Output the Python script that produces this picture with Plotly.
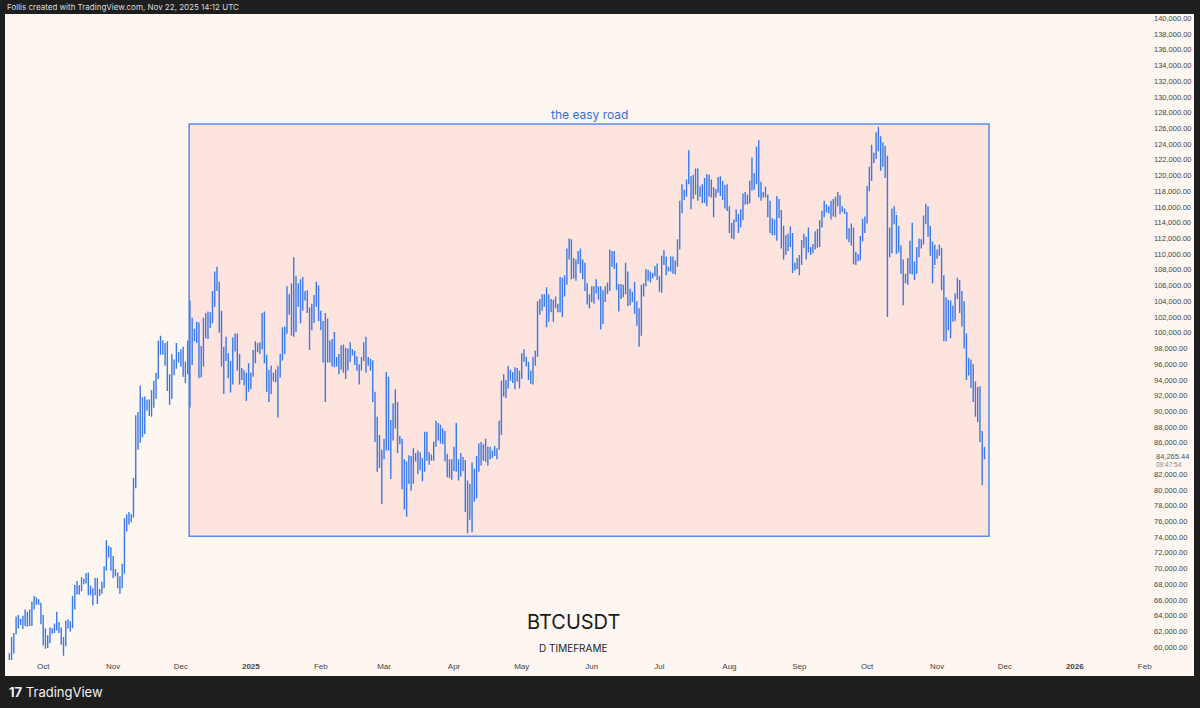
import pandas as pd
import plotly.graph_objects as go

# BTCUSDT daily bars, values in thousands of USDT
start_day = "2024-09-16"
first_open_k = 59.2

close_k = [
    # 2024-09 (16th..30th)
    58.2, 60.3, 61.7, 62.9, 63.2, 63.3, 63.5, 63.3, 64.2, 63.1, 65.2, 65.8, 65.9, 65.6, 63.3,
    # 2024-10
    60.8, 60.6, 60.7, 62.1, 62.1, 62.8, 62.2, 62.1, 60.6, 60.3, 62.4, 63.2, 62.8, 66.0, 67.0, 67.6,
    67.4, 68.4, 68.4, 69.0, 67.4, 67.4, 66.7, 68.2, 66.6, 67.0, 68.0, 69.9, 72.7, 72.3, 70.2,
    # 2024-11
    69.5, 69.4, 68.8, 67.8, 69.4, 75.6, 75.9, 76.5, 76.7, 80.4, 88.7, 87.9, 90.5, 87.3, 91.0,
    90.6, 89.9, 90.5, 92.3, 94.3, 98.3, 98.9, 97.7, 98.0, 93.0, 91.9, 95.9, 95.6, 97.5, 96.4,
    # 2024-12
    97.2, 95.8, 96.0, 98.8, 97.0, 99.9, 99.9, 101.1, 97.4, 96.6, 101.1, 100.0, 101.4, 101.4, 104.3, 106.0,
    106.1, 100.2, 97.5, 97.8, 97.2, 95.2, 94.9, 98.7, 99.4, 95.8, 94.2, 95.2, 93.7, 92.8, 93.6,
    # 2025-01
    94.6, 96.9, 98.1, 98.2, 98.3, 102.2, 96.9, 95.0, 92.5, 94.7, 94.5, 94.5, 94.5, 96.5, 100.5, 99.9,
    104.1, 104.4, 101.1, 102.0, 106.1, 103.7, 104.0, 104.8, 104.7, 102.6, 102.1, 101.3, 103.7, 104.7, 102.4,
    # 2025-02
    100.6, 97.7, 101.4, 97.9, 96.6, 96.6, 96.5, 96.5, 96.5, 97.4, 95.8, 97.9, 96.6, 97.5,
    97.6, 96.1, 95.8, 95.5, 96.6, 98.3, 96.1, 96.6, 96.3, 91.5, 88.7, 84.3, 84.7, 84.3,
    # 2025-03
    86.0, 94.3, 86.1, 87.2, 90.6, 89.9, 86.7, 86.2, 80.7, 78.5, 82.9, 83.7, 81.1, 83.9, 84.3, 82.6,
    84.0, 82.7, 86.9, 84.2, 84.1, 83.8, 86.1, 87.5, 87.4, 86.9, 87.2, 84.4, 82.6, 82.4, 82.5,
    # 2025-04
    85.2, 82.5, 83.1, 83.9, 83.5, 78.4, 79.2, 76.3, 82.6, 79.6, 83.4, 85.3, 83.8, 84.6, 83.6,
    84.0, 84.9, 84.5, 85.1, 85.2, 87.5, 93.4, 93.7, 93.9, 94.7, 94.6, 93.8, 95.0, 94.3, 94.2,
    # 2025-05
    96.5, 96.9, 95.9, 94.3, 94.7, 96.8, 97.0, 103.2, 102.9, 104.6, 104.1, 102.8, 104.1, 103.5, 103.7, 103.6,
    103.1, 106.5, 105.6, 106.8, 109.7, 111.7, 107.3, 107.8, 109.0, 109.4, 108.9, 107.8, 105.6, 103.9, 104.6,
    # 2025-06
    105.7, 105.8, 105.4, 104.7, 101.5, 104.3, 105.6, 105.7, 110.3, 110.2, 108.6, 105.7, 106.0, 105.4, 105.5,
    106.8, 104.5, 104.8, 104.6, 103.3, 102.1, 100.9, 105.3, 106.0, 107.3, 106.9, 107.0, 107.3, 108.4, 107.1,
    # 2025-07
    105.7, 108.8, 109.6, 108.0, 108.2, 109.2, 108.2, 108.9, 111.2, 115.9, 117.5, 117.4, 119.1, 119.8, 117.7, 118.7,
    119.2, 117.9, 117.9, 117.3, 117.4, 119.9, 118.7, 118.3, 117.6, 117.9, 119.4, 118.0, 117.9, 117.8, 115.8,
    # 2025-08
    113.3, 112.5, 114.2, 115.0, 114.1, 115.0, 117.5, 116.6, 116.5, 119.3, 118.7, 120.2, 123.3, 118.4, 117.4, 117.4,
    117.5, 116.3, 112.9, 114.3, 112.5, 116.9, 115.4, 113.5, 110.1, 111.8, 111.3, 112.6, 108.4, 108.8, 108.2,
    # 2025-09
    109.2, 111.2, 111.7, 110.7, 110.7, 110.2, 111.1, 112.1, 111.5, 113.9, 115.5, 116.1, 115.9, 115.3, 115.3,
    116.8, 116.4, 117.1, 115.7, 115.7, 115.2, 112.7, 112.0, 113.3, 108.9, 109.6, 109.7, 112.1, 114.4, 114.0,
    # 2025-10
    118.6, 120.5, 122.2, 122.4, 123.5, 124.7, 121.4, 123.3, 121.7, 113.2, 110.6, 115.1, 115.3, 113.0, 110.8, 108.2,
    106.4, 107.2, 108.7, 110.5, 108.4, 107.6, 110.1, 111.0, 111.6, 114.6, 114.1, 112.9, 110.0, 108.3, 109.6,
    # 2025-11 (1st..22nd)
    110.1, 110.6, 106.6, 101.5, 103.9, 101.3, 103.4, 102.3, 104.7, 106.0, 103.0,
    101.6, 99.7, 94.6, 95.6, 94.3, 92.2, 92.9, 91.5, 86.6, 85.1, 84.27,
]

high_k = [
    59.2, 61.3, 61.8, 63.9, 64.1, 63.6, 64.0, 64.8, 64.5, 64.8, 65.8, 66.5, 66.3, 66.1, 65.6,
    64.1, 62.4, 61.5, 62.5, 62.4, 63.0, 64.5, 63.2, 62.5, 61.3, 63.4, 63.5, 63.3, 66.5, 67.9, 68.4,
    67.9, 68.9, 68.7, 69.4, 69.5, 67.8, 67.5, 68.8, 68.8, 67.4, 68.3, 70.3, 73.6, 72.9, 72.7,
    71.6, 69.9, 69.5, 69.0, 70.6, 76.4, 76.9, 77.2, 76.9, 81.5, 89.5, 89.9, 93.3, 91.8, 91.9,
    91.5, 91.5, 92.7, 93.9, 94.9, 99.0, 99.6, 99.0, 98.7, 98.9, 94.7, 97.3, 96.6, 98.7, 97.5,
    97.9, 98.2, 96.3, 99.0, 104.1, 101.9, 100.5, 101.4, 101.3, 98.3, 101.9, 102.5, 102.7, 102.6, 105.3, 107.8,
    108.4, 106.5, 102.8, 98.2, 99.5, 97.4, 96.4, 99.4, 99.9, 99.9, 97.3, 95.5, 95.2, 94.9, 96.1,
    94.9, 97.8, 98.9, 98.7, 98.8, 102.5, 102.7, 97.2, 95.3, 95.8, 94.9, 95.3, 95.8, 97.3, 100.7, 100.8,
    105.9, 104.9, 106.3, 109.6, 107.2, 106.3, 106.8, 107.1, 105.3, 105.4, 103.2, 103.7, 104.8, 106.5, 106.0,
    102.8, 101.5, 102.5, 101.8, 99.0, 99.2, 100.1, 96.9, 97.3, 98.4, 98.5, 98.1, 98.0, 98.8,
    97.9, 97.7, 97.0, 96.0, 96.9, 98.8, 99.5, 96.9, 96.7, 96.5, 92.5, 89.3, 87.0, 85.1,
    86.5, 95.0, 94.4, 88.9, 91.0, 92.8, 91.2, 86.9, 86.5, 83.9, 83.6, 84.4, 84.3, 85.3, 84.7, 85.0,
    84.8, 84.0, 87.4, 87.4, 84.8, 84.5, 86.1, 88.8, 88.5, 88.3, 87.8, 87.5, 84.6, 83.9, 83.9,
    85.5, 88.5, 83.9, 84.7, 84.2, 83.8, 81.2, 80.8, 83.5, 82.7, 84.3, 85.9, 86.1, 85.8, 86.5,
    85.5, 85.5, 85.0, 85.6, 85.3, 88.8, 93.9, 94.7, 94.0, 95.8, 95.3, 95.0, 95.6, 95.5, 95.2,
    97.4, 97.9, 96.9, 96.3, 95.2, 96.9, 97.7, 104.0, 104.3, 104.9, 104.9, 105.8, 104.9, 104.3, 104.2, 104.6,
    103.7, 107.1, 107.0, 107.3, 110.7, 112.0, 111.9, 109.5, 109.3, 110.4, 110.7, 109.3, 108.9, 106.3, 104.9,
    105.9, 105.9, 106.8, 105.9, 105.9, 105.4, 105.9, 106.4, 110.6, 110.4, 110.4, 108.9, 106.2, 106.2, 106.1,
    108.9, 107.8, 105.6, 105.2, 106.5, 104.0, 103.1, 106.1, 106.3, 108.1, 108.0, 107.8, 107.6, 108.5, 108.8,
    107.2, 109.8, 110.5, 109.7, 108.4, 109.7, 109.7, 109.2, 111.9, 116.8, 118.9, 118.2, 119.5, 123.2, 119.9, 120.1,
    120.9, 120.9, 118.6, 118.9, 119.7, 120.2, 120.1, 119.5, 118.5, 118.3, 119.8, 119.9, 119.3, 118.8, 118.9,
    116.1, 114.0, 114.4, 115.7, 115.1, 115.7, 117.7, 117.9, 117.6, 119.3, 122.3, 120.3, 123.7, 124.5, 119.2, 117.9,
    118.6, 117.6, 116.8, 114.6, 114.4, 117.4, 117.0, 115.6, 113.6, 112.4, 112.6, 113.5, 112.7, 108.9, 109.5,
    109.9, 111.8, 112.6, 112.2, 113.4, 110.9, 111.3, 112.9, 113.2, 114.3, 115.5, 116.8, 116.3, 116.1, 116.8,
    117.0, 117.3, 117.9, 117.5, 116.1, 115.8, 115.4, 113.3, 113.9, 113.4, 110.3, 110.0, 112.3, 114.5, 114.8,
    118.7, 121.1, 123.9, 122.9, 125.5, 126.2, 125.0, 124.2, 123.8, 122.5, 113.4, 115.8, 116.1, 115.0, 113.6, 111.1,
    109.3, 107.5, 109.5, 111.7, 114.0, 109.1, 110.9, 112.0, 111.9, 114.9, 116.4, 116.1, 113.6, 111.6, 111.2,
    110.6, 111.2, 110.8, 107.3, 104.5, 104.2, 104.1, 103.4, 105.0, 107.0, 106.7,
    105.3, 104.0, 99.9, 96.8, 96.6, 96.0, 93.8, 93.1, 93.2, 87.5, 85.5,
]

low_k = [
    57.5, 57.6, 59.2, 61.6, 62.4, 62.8, 62.3, 62.7, 62.6, 62.7, 62.7, 64.8, 65.4, 65.4, 62.9,
    60.2, 59.8, 59.9, 60.5, 61.7, 61.8, 62.1, 61.8, 60.3, 58.9, 60.1, 62.4, 62.0, 62.4, 64.8, 66.7,
    66.7, 67.1, 68.0, 68.1, 66.6, 66.6, 65.3, 66.6, 65.5, 66.5, 66.8, 67.5, 69.7, 71.4, 69.7,
    68.8, 69.0, 67.5, 66.8, 67.5, 69.4, 74.7, 75.6, 75.9, 76.5, 80.2, 85.1, 86.0, 86.7, 87.1,
    90.1, 89.4, 89.3, 90.5, 91.6, 94.1, 97.2, 97.2, 95.8, 92.6, 90.8, 91.6, 94.6, 95.4, 96.2,
    95.7, 94.4, 93.6, 94.7, 90.5, 95.9, 98.9, 98.7, 94.2, 94.3, 95.7, 99.3, 99.2, 100.6, 101.2, 103.3,
    105.3, 100.0, 95.7, 92.2, 96.4, 94.2, 92.4, 93.4, 97.6, 95.2, 93.4, 94.0, 93.3, 91.3, 92.5,
    92.8, 94.4, 96.1, 97.5, 97.3, 97.9, 96.1, 92.5, 91.2, 92.2, 93.8, 93.7, 89.2, 94.3, 96.5, 97.3,
    99.9, 102.3, 99.6, 99.5, 100.1, 103.3, 101.2, 102.8, 104.1, 102.5, 97.8, 100.3, 101.3, 103.3, 101.5,
    100.3, 96.2, 91.2, 96.2, 96.2, 95.7, 95.6, 95.7, 94.7, 95.3, 94.9, 94.1, 95.2, 96.3,
    97.1, 95.9, 95.2, 93.4, 95.2, 96.4, 94.9, 95.8, 95.2, 91.2, 86.1, 82.3, 82.8, 78.2,
    83.9, 85.0, 85.0, 81.4, 86.3, 87.8, 84.7, 85.8, 80.1, 77.5, 76.6, 80.8, 79.9, 80.8, 83.6, 82.0,
    82.5, 81.1, 82.3, 83.7, 83.2, 83.7, 83.7, 85.5, 86.3, 85.9, 85.8, 83.6, 81.6, 81.5, 81.3,
    82.4, 82.3, 81.2, 81.7, 82.4, 77.2, 74.5, 76.2, 74.6, 78.5, 78.9, 82.3, 83.1, 83.7, 83.6,
    83.1, 83.9, 84.1, 84.3, 83.9, 85.1, 87.0, 91.9, 91.7, 92.9, 93.9, 93.6, 92.8, 93.8, 92.9,
    94.1, 96.3, 95.7, 94.0, 93.5, 93.4, 95.8, 96.9, 102.3, 102.8, 103.3, 100.7, 101.4, 102.6, 101.4, 103.1,
    102.6, 102.6, 102.0, 104.6, 106.1, 109.3, 106.8, 106.9, 106.6, 108.7, 107.6, 106.8, 105.3, 103.6, 103.1,
    103.9, 103.7, 105.0, 104.2, 100.4, 101.1, 103.9, 104.9, 105.3, 108.4, 108.1, 105.4, 102.7, 104.3, 104.5,
    104.9, 103.4, 103.5, 103.9, 102.4, 100.9, 98.2, 99.6, 104.6, 105.9, 106.6, 106.4, 106.9, 107.2, 106.7,
    105.2, 105.1, 108.6, 107.3, 107.8, 107.8, 107.5, 107.4, 108.4, 110.6, 115.2, 116.9, 117.3, 118.9, 115.7, 117.0,
    117.6, 116.8, 117.3, 116.5, 116.5, 116.1, 117.3, 117.2, 114.7, 117.2, 117.8, 117.4, 116.9, 115.8, 115.5,
    112.7, 112.0, 111.9, 114.1, 112.7, 113.4, 114.3, 116.3, 116.3, 116.5, 118.1, 118.2, 118.9, 117.2, 116.8, 117.2,
    117.2, 114.7, 112.7, 112.4, 112.4, 111.7, 114.6, 110.7, 109.3, 109.9, 110.4, 110.9, 107.6, 107.9, 108.1,
    107.3, 108.6, 110.8, 109.3, 110.2, 109.9, 110.1, 110.6, 110.8, 110.9, 113.4, 114.7, 115.3, 115.2, 114.4,
    114.8, 114.7, 116.1, 115.1, 115.4, 115.1, 111.9, 111.5, 111.1, 108.7, 108.6, 109.1, 109.2, 111.6, 112.7,
    113.9, 118.0, 119.3, 121.6, 122.1, 123.1, 120.6, 121.1, 119.7, 102.0, 109.6, 110.1, 113.8, 110.0, 110.2, 107.5,
    103.5, 106.3, 106.1, 107.5, 107.4, 106.7, 107.5, 109.6, 110.7, 111.2, 113.8, 112.2, 109.8, 106.3, 108.6,
    109.4, 109.8, 105.4, 98.9, 98.9, 100.3, 99.3, 101.4, 101.5, 104.3, 102.5,
    100.8, 98.0, 94.0, 94.6, 93.0, 91.2, 89.3, 88.6, 86.1, 80.6, 83.9,
]

assert len(close_k) == len(high_k) == len(low_k)

dates = pd.date_range(start_day, periods=len(close_k), freq="D")
close = [v * 1000 for v in close_k]
high = [v * 1000 for v in high_k]
low = [v * 1000 for v in low_k]
open_ = [first_open_k * 1000] + close[:-1]  # 24/7 market: open = previous close

month_ticks = ["2024-10-01", "2024-11-01", "2024-12-01", "2025-01-01", "2025-02-01", "2025-03-01",
               "2025-04-01", "2025-05-01", "2025-06-01", "2025-07-01", "2025-08-01", "2025-09-01",
               "2025-10-01", "2025-11-01", "2025-12-01", "2026-01-01", "2026-02-01"]
month_labels = ["Oct", "Nov", "Dec", "<b>2025</b>", "Feb", "Mar", "Apr", "May", "Jun", "Jul",
                "Aug", "Sep", "Oct", "Nov", "Dec", "<b>2026</b>", "Feb"]

price_ticks = [p * 1000 for p in range(60, 141, 2) if p != 84]

box_start, box_end = "2024-12-04 16:00", "2025-11-24"
box_low, box_high = 74100, 126550
last_price = "84,265.44"

BAR_BLUE = "#3a7ae6"
CREAM = "#fdf6f1"
FRAME = "#1e1e1e"
FONT = "Liberation Sans"

fig = go.Figure(go.Ohlc(
    x=dates, open=open_, high=high, low=low, close=close,
    increasing=dict(line=dict(color=BAR_BLUE, width=1.4)),
    decreasing=dict(line=dict(color=BAR_BLUE, width=1.4)),
    tickwidth=0.3, hoverinfo="skip",
))

# layout geometry in pixels (figure is 1200 x 708)
L, R, T, B = 5, 1147, 14, 660


def px_x(x):
    return (x - L) / (R - L)


def px_y(y):
    return (B - y) / (B - T)


def note(text, x, y, size, color, family="Inter", anchor="center"):
    return dict(text=text, x=px_x(x), y=px_y(y), xref="paper", yref="paper", showarrow=False,
                xanchor=anchor, yanchor="middle", font=dict(size=size, color=color, family=family))


shapes = [
    # cream chart panel including the axis strips
    dict(type="rect", xref="paper", yref="paper", x0=px_x(5), x1=px_x(1194), y0=px_y(676), y1=px_y(14),
         fillcolor=CREAM, line_width=0, layer="below"),
    # the highlighted range box
    dict(type="rect", xref="x", yref="y", x0=box_start, x1=box_end, y0=box_low, y1=box_high,
         fillcolor="#fde4df", line=dict(color="#5a8ff0", width=1.6), layer="below"),
]

annotations = [
    dict(text="the easy road", x="2025-05-31", y=127800, xref="x", yref="y", showarrow=False,
         yanchor="middle", font=dict(size=12, color="#3a6fd8", family="Inter")),
    note("BTCUSDT", 573, 622, 20, "#1b1b1b"),
    note("D TIMEFRAME", 573, 648, 10, "#1b1b1b"),
    note(last_price, 1154, 456.5, 7.5, "#555", FONT, "left"),
    note("09:47:54", 1154, 464, 6.5, "#888", FONT, "left"),
    note("Follis created with TradingView.com, Nov 22, 2025 14:12 UTC", 5, 7, 8, "#dcdcdc", "Inter", "left"),
    note("<b>17</b> TradingView", 7, 692, 13, "#f2f2f2", "Inter", "left"),
]

fig.update_layout(
    width=1200, height=708,
    margin=dict(l=L, r=1200 - R, t=T, b=708 - B),
    paper_bgcolor=FRAME,
    plot_bgcolor="rgba(0,0,0,0)",
    showlegend=False,
    shapes=shapes,
    annotations=annotations,
    font=dict(family=FONT, size=8, color="#444"),
    xaxis=dict(
        type="date", range=["2024-09-14 02:00", "2026-02-02"],
        rangeslider=dict(visible=False),
        tickvals=month_ticks, ticktext=month_labels,
        showgrid=False, zeroline=False, showline=False, ticks="",
        tickfont=dict(size=8, color="#444"),
    ),
    yaxis=dict(
        side="right", range=[58360, 140550],
        tickvals=price_ticks, tickformat=",.2f",
        showgrid=False, zeroline=False, showline=False, ticks="",
        ticklabelstandoff=6,
        tickfont=dict(size=7.5, color="#444"),
    ),
)

# drop the browser's default body margin so the figure sits flush in the window
fig.write_html("out.html", config={"displayModeBar": False},
               post_script="document.body.style.margin='0';"
                           "document.body.style.background='#1e1e1e';")
